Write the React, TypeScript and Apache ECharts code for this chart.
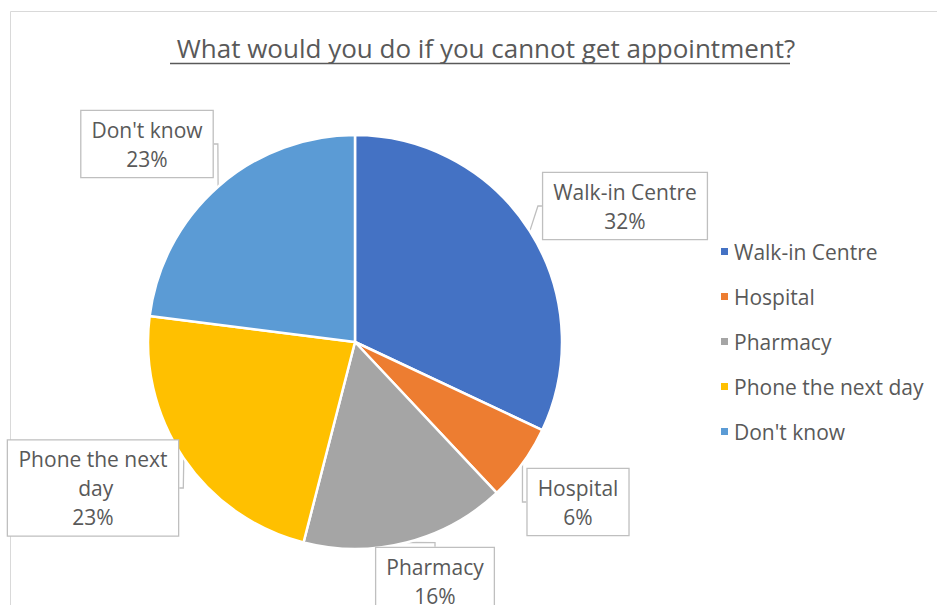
import React, { useEffect, useRef } from "react";
import * as echarts from "echarts";

const categories = ["Walk-in Centre", "Hospital", "Pharmacy", "Phone the next day", "Don't know"];
const values = [32, 6, 16, 23, 23];
const colors = ["#4472C4", "#ED7D31", "#A5A5A5", "#FFC000", "#5B9BD5"];
const titleText = "What would you do if you cannot get appointment?";

// label box centres (layout only)
const labelPos = [
  [625, 206],
  [578, 502],
  [435, 581],
  [93, 488],
  [147, 144],
];

const FONT = "'Open Sans', sans-serif";

export default function App() {
  const ref = useRef<HTMLDivElement>(null);
  useEffect(() => {
    const chart = echarts.init(ref.current!, null, { renderer: "svg" });
    chart.setOption({
      animation: false,
      backgroundColor: "#ffffff",
      title: {
        text: titleText,
        left: 481,
        top: 30,
        textAlign: "center",
        textStyle: { fontFamily: FONT, fontSize: 26, fontWeight: "normal", color: "#595959" },
      },
      graphic: [
        {
          type: "rect",
          shape: { x: 10.5, y: 11.5, width: 1000, height: 1000 },
          style: { fill: "none", stroke: "#d9d9d9", lineWidth: 1 },
          silent: true,
        },
        {
          type: "line",
          shape: { x1: 170, y1: 63.5, x2: 790, y2: 63.5 },
          style: { stroke: "#595959", lineWidth: 1.3 },
          silent: true,
        },
      ],
      legend: {
        orient: "vertical",
        left: 714,
        top: 236,
        icon: "rect",
        itemWidth: 9,
        itemHeight: 9,
        itemGap: 24,
        textStyle: { fontFamily: FONT, fontSize: 21, color: "#595959" },
        data: categories,
      },
      series: [
        {
          type: "pie",
          center: [355, 342],
          radius: [0, 207],
          startAngle: 90,
          clockwise: true,
          itemStyle: { borderColor: "#ffffff", borderWidth: 2.5 },
          label: {
            show: true,
            position: "outside",
            formatter: "{b}\n{d}%",
            fontFamily: FONT,
            fontSize: 21,
            lineHeight: 29,
            color: "#595959",
            align: "center",
            backgroundColor: "#ffffff",
            borderColor: "#bfbfbf",
            borderWidth: 1.3,
            padding: [4, 10, 4, 10],
          },
          labelLine: {
            show: true,
            length: 6,
            length2: 4,
            lineStyle: { color: "#bfbfbf", width: 1.3 },
          },
          labelLayout: (p: any) => {
            const pos = labelPos[p.dataIndex];
            return { x: pos[0], y: pos[1], align: "center", verticalAlign: "middle" };
          },
          data: categories.map((name, i) => {
            const item: any = { name, value: values[i], itemStyle: { color: colors[i] } };
            if (i === 3) {
              item.label = { width: 150, overflow: "break" };
            }
            return item;
          }),
        },
      ],
    });
    return () => chart.dispose();
  }, []);
  return (
    <div
      ref={ref}
      style={{ position: "fixed", left: 0, top: 0, width: 937, height: 605 }}
    />
  );
}
